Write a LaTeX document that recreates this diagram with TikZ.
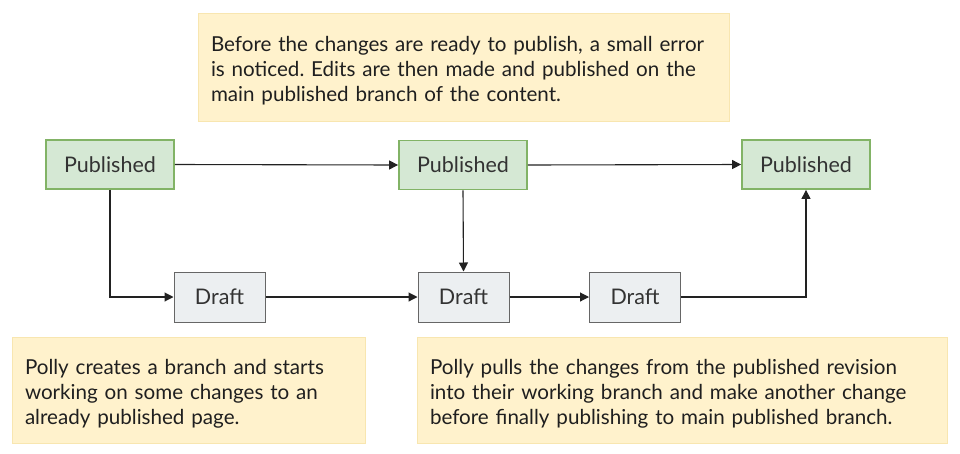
\documentclass[tikz,border=0pt]{standalone}
\usepackage{fontspec}
\setmainfont{Lato}
\frenchspacing
\usetikzlibrary{arrows.meta}
\definecolor{pubfill}{HTML}{D5E8D4}
\definecolor{pubdraw}{HTML}{82B366}
\definecolor{draftfill}{HTML}{ECEFF1}
\definecolor{draftdraw}{HTML}{666666}
\definecolor{notefill}{HTML}{FFF2CC}
\definecolor{notedraw}{HTML}{F8E6B0}
\definecolor{txt}{HTML}{333333}
\definecolor{linec}{HTML}{222222}
\newcommand{\toppad}{\rule{0pt}{22.5pt}}
\tikzset{
  pubbox/.style={draw=pubdraw, fill=pubfill, line width=1.8pt, minimum width=128pt, minimum height=49pt, inner sep=0pt, text=txt, font=\fontsize{21.5}{24}\selectfont},
  draftbox/.style={draw=draftdraw, fill=draftfill, line width=1pt, minimum width=91pt, minimum height=50pt, inner sep=0pt, text=txt, font=\fontsize{21.5}{24}\selectfont},
  notebox/.style={draw=notedraw, fill=notefill, line width=0.8pt, inner xsep=13pt, inner ysep=0pt, align=left, text=black!88, font=\fontsize{20.6}{25}\selectfont},
  conn/.style={draw=linec, line width=1.1pt, -{Triangle[length=9pt,width=9pt]}}
}
\begin{document}
\begin{tikzpicture}[x=1pt,y=-1pt]
\useasboundingbox (0,0) rectangle (960,453);
\node[notebox, text width=505pt, minimum height=108pt] (n1) at (463.5,67) {\toppad Before the changes are ready to publish, a small error\\is noticed. Edits are then made and published on the\\main published branch of the content.};
\node[notebox, text width=327pt, minimum height=106pt] (n2) at (188.5,390) {\toppad Polly creates a branch and starts\\working on some changes to an\\already published page.};
\node[notebox, text width=504pt, minimum height=106pt] (n3) at (682,390) {\toppad Polly pulls the changes from the published revision\\into their working branch and make another change\\before finally publishing to main published branch.};
\node[pubbox] (p1) at (110,164.5) {Published};
\node[pubbox] (p2) at (463,165) {Published};
\node[pubbox] (p3) at (806,164.5) {Published};
\node[draftbox] (d1) at (219.5,297) {Draft};
\node[draftbox] (d2) at (463.5,297) {Draft};
\node[draftbox] (d3) at (635,297) {Draft};
\draw[conn] (p1.east) -- (p2.west);
\draw[conn] (p2.east) -- (p3.west);
\draw[conn] (p1.south) |- (d1.west);
\draw[conn] (d1.east) -- (d2.west);
\draw[conn] (p2.south) -- (d2.north);
\draw[conn] (d2.east) -- (d3.west);
\draw[conn] (d3.east) -| (p3.south);
\end{tikzpicture}
\end{document}
